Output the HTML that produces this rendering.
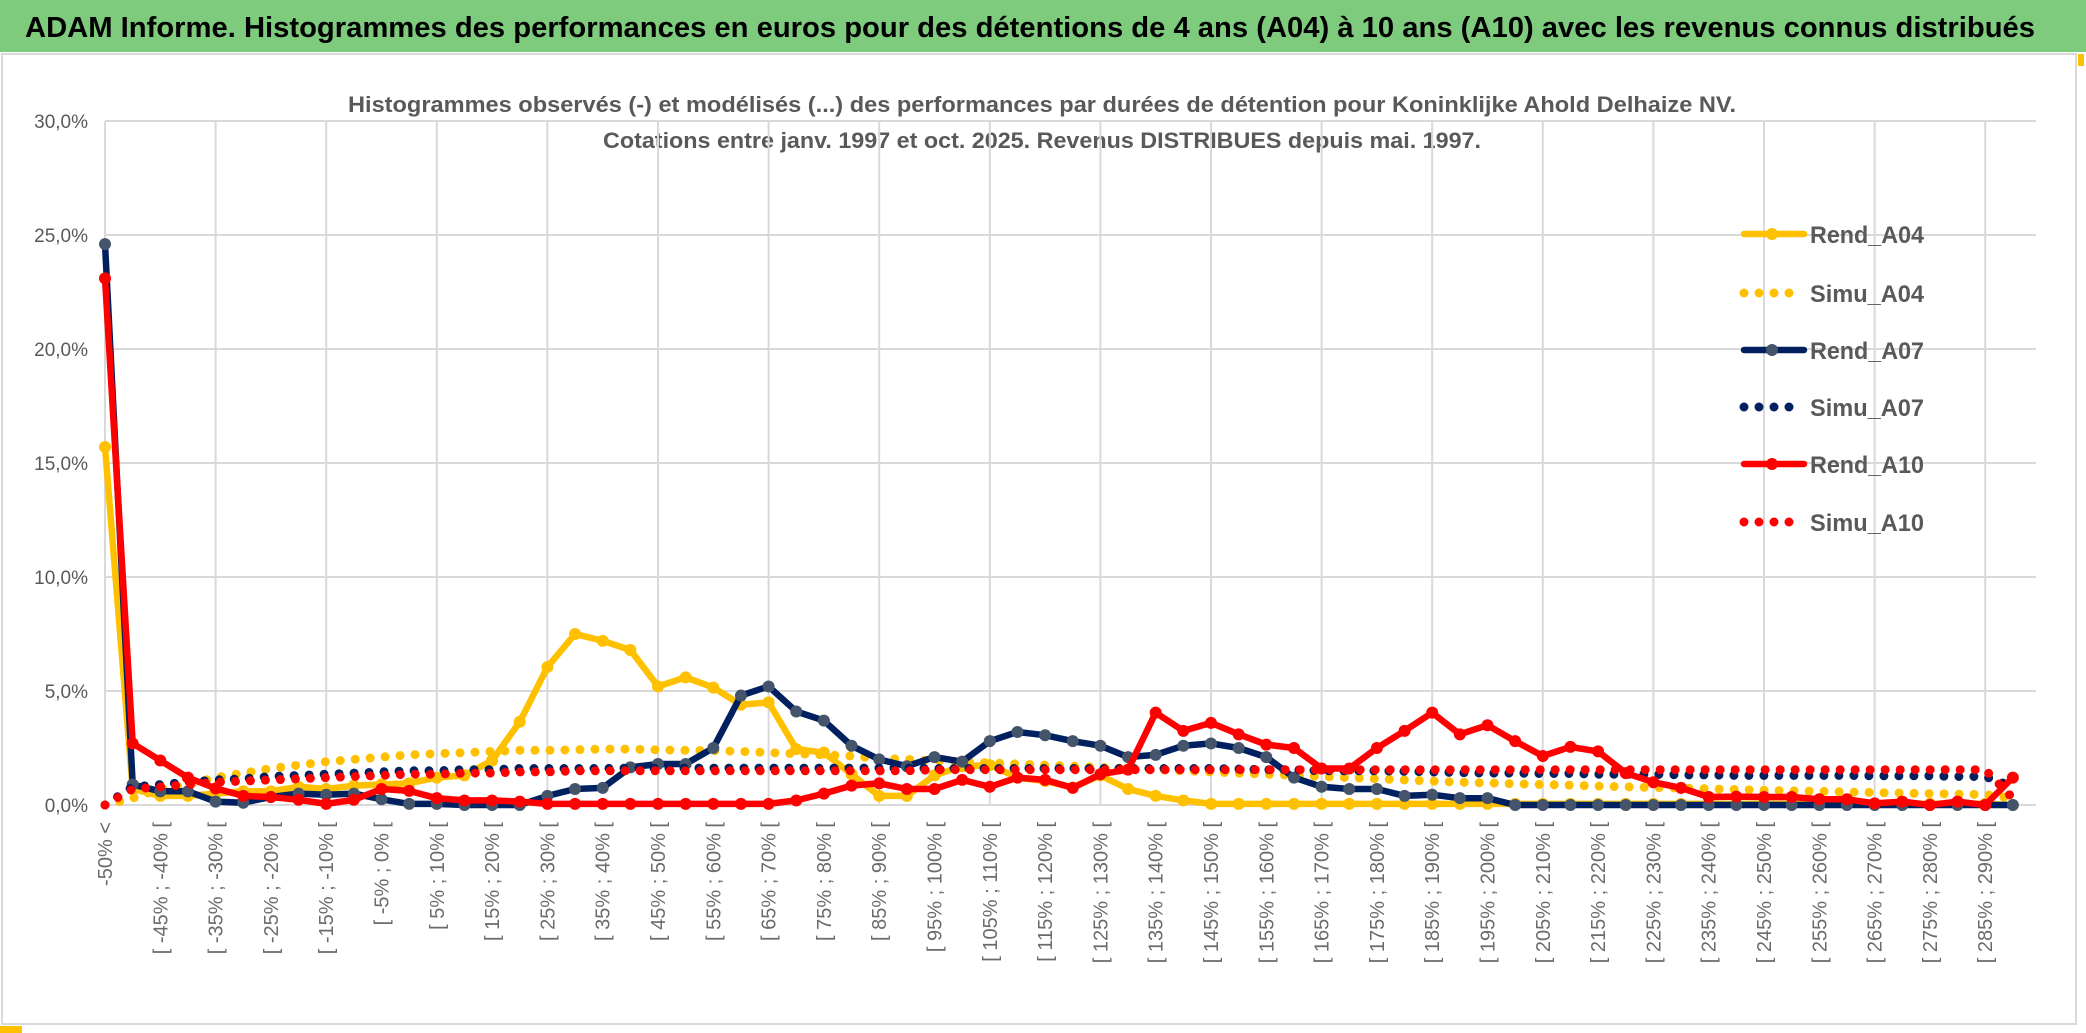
<!DOCTYPE html>
<html><head><meta charset="utf-8">
<style>
html,body{margin:0;padding:0;background:#fff;}
svg{display:block;font-family:"Liberation Sans",sans-serif;}
</style></head>
<body>
<svg id="chart" width="2086" height="1033" viewBox="0 0 2086 1033" xmlns="http://www.w3.org/2000/svg">
  <rect x="0" y="0" width="2086" height="1033" fill="#fff"/>
  <rect x="0" y="0" width="2086" height="52" fill="#7ECB7E"/>
  <text x="1030" y="37" text-anchor="middle" font-size="29" font-weight="bold" fill="#000" textLength="2010" lengthAdjust="spacingAndGlyphs">ADAM Informe. Histogrammes des performances en euros pour des détentions de 4 ans (A04) à 10 ans (A10) avec les revenus connus distribués</text>
  <rect x="2" y="54" width="2074" height="970" fill="none" stroke="#d9d9d9" stroke-width="2"/>
  <rect x="2078" y="54" width="6" height="12" fill="#FFC000"/>
  <rect x="0" y="1026" width="22" height="7" fill="#FFC000"/>
  <text x="1042" y="112" text-anchor="middle" font-size="22" font-weight="bold" fill="#595959" textLength="1388" lengthAdjust="spacingAndGlyphs">Histogrammes observés (-) et modélisés (...) des performances par durées de détention pour Koninklijke Ahold Delhaize NV.</text>
  <text x="1042" y="148" text-anchor="middle" font-size="22" font-weight="bold" fill="#595959" textLength="878" lengthAdjust="spacingAndGlyphs">Cotations entre janv. 1997 et oct. 2025. Revenus DISTRIBUES depuis mai. 1997.</text>
  <g id="grid"></g>
  <g id="yaxis"></g>
  <g id="xaxis"></g>
  <g id="series"></g>
  <g id="legend"></g>
</svg>
<script>
const yTicks = [0, 5, 10, 15, 20, 25, 30];
const rendA04 = [15.7,0.7,0.4,0.4,0.5,0.6,0.6,0.8,0.7,0.85,0.9,0.95,1.2,1.3,1.95,3.65,6.05,7.5,7.2,6.8,5.2,5.6,5.15,4.4,4.5,2.45,2.3,1.35,0.4,0.4,1.3,1.7,1.75,1.2,1.05,0.77,1.3,0.7,0.4,0.2,0.05,0.05,0.05,0.05,0.05,0.05,0.05,0.05,0.05,0.05,0.05,0.05,0.05,0.05,0.05,0.05,0.05,0.05,0.05,0.05,0.05,0.05,0.05,0.05,0.05,0.05,0.05,0.05,0.05,0];
const simuA04 = [0,0.3,0.7,0.9,1.2,1.4,1.6,1.75,1.9,2.0,2.1,2.2,2.25,2.3,2.35,2.4,2.4,2.42,2.45,2.45,2.42,2.4,2.38,2.35,2.3,2.25,2.2,2.15,2.05,2.0,1.95,1.9,1.85,1.8,1.75,1.7,1.65,1.6,1.55,1.5,1.45,1.4,1.35,1.3,1.25,1.2,1.15,1.1,1.05,1.0,0.97,0.93,0.9,0.87,0.83,0.8,0.77,0.74,0.71,0.68,0.65,0.62,0.6,0.57,0.55,0.52,0.5,0.48,0.46,0.3];
const rendA07 = [24.6,0.9,0.6,0.6,0.15,0.1,0.35,0.5,0.45,0.5,0.25,0.05,0.05,0,0,0,0.4,0.7,0.75,1.65,1.8,1.8,2.5,4.8,5.2,4.1,3.7,2.6,2.0,1.7,2.1,1.9,2.8,3.2,3.06,2.8,2.6,2.1,2.2,2.6,2.7,2.5,2.1,1.2,0.8,0.7,0.7,0.4,0.45,0.3,0.3,0,0,0,0,0,0,0,0,0,0,0,0,0,0,0,0,0,0,0];
const simuA07 = [0,0.8,0.9,1.0,1.1,1.15,1.25,1.3,1.35,1.4,1.45,1.5,1.5,1.55,1.55,1.6,1.6,1.6,1.6,1.62,1.62,1.62,1.62,1.62,1.62,1.62,1.62,1.62,1.62,1.62,1.6,1.6,1.6,1.6,1.6,1.6,1.6,1.6,1.6,1.6,1.6,1.58,1.55,1.55,1.5,1.5,1.5,1.48,1.45,1.42,1.4,1.4,1.38,1.38,1.35,1.35,1.35,1.32,1.32,1.3,1.3,1.3,1.3,1.3,1.28,1.28,1.28,1.25,1.25,0.8];
const rendA10 = [23.1,2.7,1.95,1.2,0.73,0.4,0.35,0.23,0.05,0.23,0.7,0.62,0.3,0.2,0.2,0.15,0.05,0.05,0.05,0.05,0.05,0.05,0.05,0.05,0.05,0.2,0.5,0.85,0.95,0.7,0.7,1.1,0.8,1.2,1.1,0.75,1.35,1.55,4.05,3.25,3.6,3.1,2.65,2.5,1.6,1.6,2.5,3.25,4.05,3.1,3.5,2.8,2.15,2.55,2.35,1.4,1.0,0.75,0.35,0.37,0.35,0.35,0.25,0.25,0.07,0.15,0,0.15,0,1.2];
const simuA10 = [0,0.7,0.8,0.9,1.0,1.05,1.1,1.15,1.2,1.25,1.3,1.35,1.35,1.4,1.4,1.45,1.45,1.5,1.5,1.5,1.5,1.5,1.5,1.5,1.5,1.5,1.5,1.5,1.5,1.5,1.55,1.55,1.55,1.55,1.55,1.55,1.55,1.55,1.55,1.55,1.55,1.55,1.55,1.55,1.55,1.55,1.55,1.55,1.55,1.55,1.55,1.55,1.55,1.55,1.55,1.55,1.55,1.55,1.55,1.55,1.55,1.55,1.55,1.55,1.55,1.55,1.55,1.55,1.55,0.3];
const categories = ["-50% <"];
for (let lo = -50; lo < 295; lo += 5) categories.push("[ " + lo + "% ; " + (lo + 5) + "% [");

const NS = "http://www.w3.org/2000/svg";
const X0 = 105, XSTEP = 27.65, Y0 = 805, YPER = 22.8, PLOT_R = 2036;
const xPos = i => X0 + i * XSTEP;
const yPos = v => Y0 - v * YPER;
function mk(tag, attrs, parent) {
  const e = document.createElementNS(NS, tag);
  for (const k in attrs) e.setAttribute(k, attrs[k]);
  parent.appendChild(e);
  return e;
}
const grid = document.getElementById('grid');
const yaxis = document.getElementById('yaxis');
const xaxis = document.getElementById('xaxis');
yTicks.forEach(t => {
  const l = mk('line', {x1: X0, x2: PLOT_R, y1: yPos(t), y2: yPos(t), stroke: '#d9d9d9', 'stroke-width': 2}, grid);
  
  
  const tx = mk('text', {x: 88, y: yPos(t) + 7, 'text-anchor': 'end', 'font-size': 19, fill: '#595959'}, yaxis);
  tx.textContent = t.toFixed(1).replace('.', ',') + '%';
  
  
});
categories.forEach((c, i) => {
  if (i % 4 === 0) {
    const l = mk('line', {x1: xPos(i), x2: xPos(i), y1: yPos(30), y2: Y0, stroke: '#d9d9d9', 'stroke-width': 2}, grid);
    
    
  }
  if (i % 2 === 0) {
    const tx = mk('text', {transform: 'translate(' + (xPos(i) + 7) + ',822) rotate(-90)', 'text-anchor': 'end', 'font-size': 20, fill: '#6b6b6b'}, xaxis);
    tx.textContent = c;
    
    
  }
});
const seriesG = document.getElementById('series');
const seriesList = [
  {name: 'Rend_A04', data: rendA04, color: '#FFC000', marker: '#FFC000', dotted: false},
  {name: 'Simu_A04', data: simuA04, color: '#FFC000', dotted: true},
  {name: 'Rend_A07', data: rendA07, color: '#002060', marker: '#44546A', dotted: false},
  {name: 'Simu_A07', data: simuA07, color: '#002060', dotted: true},
  {name: 'Rend_A10', data: rendA10, color: '#FF0000', marker: '#FF0000', dotted: false},
  {name: 'Simu_A10', data: simuA10, color: '#FF0000', dotted: true}
];
seriesList.forEach(s => {
  const g = mk('g', {}, seriesG);
  
  
  const pts = s.data.map((v, i) => xPos(i).toFixed(1) + ',' + yPos(v).toFixed(1)).join(' ');
  const pl = mk('polyline', {points: pts, fill: 'none', stroke: s.color,
    'stroke-width': s.dotted ? 9 : 6.5, 'stroke-linejoin': 'round', 'stroke-linecap': 'round'}, g);
  if (s.dotted) pl.setAttribute('stroke-dasharray', '0 15');
  
  
  if (!s.dotted) {
    s.data.forEach((v, i) => {
      const c = mk('circle', {cx: xPos(i), cy: yPos(v), r: 6, fill: s.marker}, g);
      
      
    });
  }
});
const legend = document.getElementById('legend');
const legendY = [234, 293, 350, 407, 464, 522];
seriesList.forEach((s, k) => {
  const y = legendY[k];
  const g = mk('g', {}, legend);
  
  
  const l = mk('line', {x1: 1744, x2: 1804, y1: y, y2: y, stroke: s.color, 'stroke-width': s.dotted ? 9 : 6.5, 'stroke-linecap': 'round'}, g);
  if (s.dotted) l.setAttribute('stroke-dasharray', '0 15');
  
  
  if (!s.dotted) {
    const c = mk('circle', {cx: 1772, cy: y, r: 6, fill: s.marker}, g);
    
    
  }
  const t = mk('text', {x: 1810, y: y + 9, 'font-size': 24, 'font-weight': 'bold', fill: '#595959', textLength: 114, lengthAdjust: 'spacingAndGlyphs'}, g);
  t.textContent = s.name;
  
  
});
</script>
</body></html>
